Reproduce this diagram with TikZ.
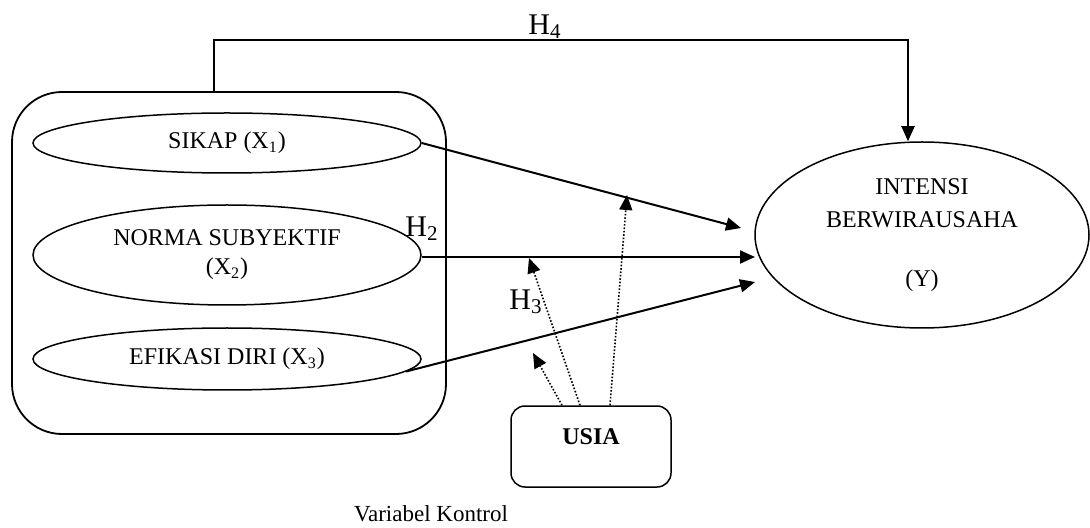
\documentclass[tikz,border=0pt]{standalone}
\usepackage{fontspec}
\setmainfont{Liberation Serif}
\usetikzlibrary{shapes.geometric,arrows.meta}
\begin{document}
\begin{tikzpicture}[x=0.5pt,y=-0.5pt,
  every node/.style={font=\fontsize{12}{14.5}\selectfont},
  var/.style={draw, ellipse, line width=0.75pt, inner sep=0pt, align=center},
  arr/.style={line width=1pt, -{Triangle[length=7.5pt,width=6.5pt]}},
  dotarr/.style={line width=0.8pt, dash pattern=on 0.8pt off 0.9pt, -{Triangle[length=7.5pt,width=6.5pt]}},
  hlab/.style={font=\fontsize{15}{18}\selectfont, inner sep=0pt}]
\useasboundingbox (0,0) rectangle (1090,528);
% group box
\node[draw, rounded corners=25pt, line width=0.9pt, minimum width=217pt, minimum height=171pt, inner sep=0pt] (grp) at (229,263) {};
% variables
\node[var, minimum width=194pt, minimum height=30pt] (sikap) at (227,143) {SIKAP (X\textsubscript{1})};
\node[var, minimum width=194pt, minimum height=50pt] (norma) at (227,255) {NORMA SUBYEKTIF\\(X\textsubscript{2})};
\node[var, minimum width=194pt, minimum height=31pt] (efi) at (227,359) {EFIKASI DIRI (X\textsubscript{3})};
\node[var, minimum width=167pt, minimum height=93pt, font=\fontsize{12}{16.5}\selectfont] (int) at (922,235) {INTENSI\\BERWIRAUSAHA\\[13pt](Y)};
% control
\node[draw, rounded corners=7pt, line width=0.75pt, minimum width=80pt, minimum height=40.5pt, inner sep=0pt] (usia) at (591,446.5) {};
\node[font=\fontsize{12}{14.5}\selectfont\bfseries] (usiat) at (591,437) {USIA};
\node[font=\fontsize{11.5}{14}\selectfont] (vk) at (431,514) {Variabel Kontrol};
% coordinates
\coordinate (h4a) at (214,40);
\coordinate (h4b) at (908,40);
\coordinate (t1) at (741,228);
\coordinate (t2) at (755,257);
\coordinate (t3) at (755,282);
\coordinate (d1) at (533,353);
\coordinate (d2) at (529,258);
\coordinate (d3) at (627,195);
% H4 path
\draw[arr] (grp.north -| h4a) -- (h4a) -- (h4b) -- (int.north -| h4b);
\node[hlab] (h4) at (545,27) {H\textsubscript{4}};
% main arrows
\draw[arr] (sikap.east) -- (t1);
\draw[arr] (norma.east |- t2) -- (t2);
\draw[arr] (efi.-4.3) -- (t3);
% dotted moderation arrows
\draw[dotarr] (usia.north -| 562,0) -- (d1);
\draw[dotarr] (usia.north -| 580,0) -- (d2);
\draw[dotarr] (usia.north -| 610,0) -- (d3);
% labels
\node[hlab] (h2) at (422,229) {H\textsubscript{2}};
\node[hlab] (h3) at (526,302) {H\textsubscript{3}};
\end{tikzpicture}
\end{document}
